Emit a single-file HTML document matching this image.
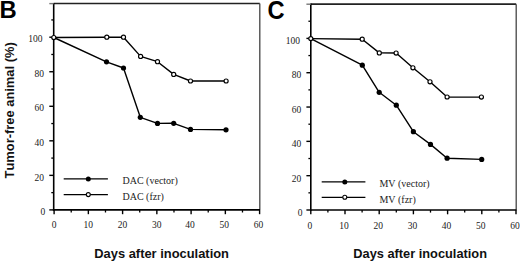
<!DOCTYPE html>
<html><head><meta charset="utf-8"><style>
html,body{margin:0;padding:0;background:#fff;}
body{width:520px;height:262px;overflow:hidden;}
svg{display:block;}
text{font-kerning:none;}
.tk{font-family:"Liberation Serif",serif;font-size:9.5px;fill:#222;}
.lg{font-family:"Liberation Serif",serif;font-size:10px;fill:#222;}
.ttl{font-family:"Liberation Sans",sans-serif;font-weight:bold;font-size:12.9px;fill:#111;}
.ttl2{font-family:"Liberation Sans",sans-serif;font-weight:bold;font-size:12.9px;fill:#111;}
.big{font-family:"Liberation Sans",sans-serif;font-weight:bold;font-size:24.5px;fill:#000;}
</style></head><body>
<svg width="520" height="262" viewBox="0 0 520 262">
<rect width="520" height="262" fill="#fff"/>
<line x1="53.70" y1="3.60" x2="259.80" y2="3.60" stroke="#222" stroke-width="1.5"/>
<line x1="259.80" y1="3.60" x2="259.80" y2="209.90" stroke="#444" stroke-width="1.3"/>
<line x1="53.70" y1="3.00" x2="53.70" y2="210.70" stroke="#000" stroke-width="1.6"/>
<line x1="52.90" y1="209.90" x2="260.00" y2="209.90" stroke="#000" stroke-width="1.6"/>
<line x1="49.30" y1="209.90" x2="53.70" y2="209.90" stroke="#000" stroke-width="1.4"/>
<line x1="51.30" y1="192.63" x2="53.70" y2="192.63" stroke="#000" stroke-width="1.3"/>
<line x1="49.30" y1="175.36" x2="53.70" y2="175.36" stroke="#000" stroke-width="1.4"/>
<line x1="51.30" y1="158.09" x2="53.70" y2="158.09" stroke="#000" stroke-width="1.3"/>
<line x1="49.30" y1="140.82" x2="53.70" y2="140.82" stroke="#000" stroke-width="1.4"/>
<line x1="51.30" y1="123.55" x2="53.70" y2="123.55" stroke="#000" stroke-width="1.3"/>
<line x1="49.30" y1="106.28" x2="53.70" y2="106.28" stroke="#000" stroke-width="1.4"/>
<line x1="51.30" y1="89.01" x2="53.70" y2="89.01" stroke="#000" stroke-width="1.3"/>
<line x1="49.30" y1="71.74" x2="53.70" y2="71.74" stroke="#000" stroke-width="1.4"/>
<line x1="51.30" y1="54.47" x2="53.70" y2="54.47" stroke="#000" stroke-width="1.3"/>
<line x1="49.30" y1="37.20" x2="53.70" y2="37.20" stroke="#000" stroke-width="1.4"/>
<line x1="51.30" y1="19.93" x2="53.70" y2="19.93" stroke="#000" stroke-width="1.3"/>
<line x1="49.30" y1="3.60" x2="53.70" y2="3.60" stroke="#777" stroke-width="1.4"/>
<text x="45.30" y="214.90" class="tk" text-anchor="end" >0</text>
<text x="44.10" y="181.36" class="tk" text-anchor="end" >20</text>
<text x="44.10" y="145.82" class="tk" text-anchor="end" >40</text>
<text x="44.10" y="111.28" class="tk" text-anchor="end" >60</text>
<text x="44.10" y="76.74" class="tk" text-anchor="end" >80</text>
<text x="42.60" y="41.50" class="tk" text-anchor="end" >100</text>
<line x1="54.10" y1="209.90" x2="54.10" y2="214.20" stroke="#000" stroke-width="1.4"/>
<text x="54.10" y="227.80" class="tk" text-anchor="middle" >0</text>
<line x1="71.22" y1="209.90" x2="71.22" y2="212.50" stroke="#000" stroke-width="1.3"/>
<line x1="88.35" y1="209.90" x2="88.35" y2="214.20" stroke="#000" stroke-width="1.4"/>
<text x="88.35" y="227.80" class="tk" text-anchor="middle" >10</text>
<line x1="105.48" y1="209.90" x2="105.48" y2="212.50" stroke="#000" stroke-width="1.3"/>
<line x1="122.60" y1="209.90" x2="122.60" y2="214.20" stroke="#000" stroke-width="1.4"/>
<text x="122.60" y="227.80" class="tk" text-anchor="middle" >20</text>
<line x1="139.72" y1="209.90" x2="139.72" y2="212.50" stroke="#000" stroke-width="1.3"/>
<line x1="156.85" y1="209.90" x2="156.85" y2="214.20" stroke="#000" stroke-width="1.4"/>
<text x="156.85" y="227.80" class="tk" text-anchor="middle" >30</text>
<line x1="173.98" y1="209.90" x2="173.98" y2="212.50" stroke="#000" stroke-width="1.3"/>
<line x1="191.10" y1="209.90" x2="191.10" y2="214.20" stroke="#000" stroke-width="1.4"/>
<text x="190.10" y="227.80" class="tk" text-anchor="middle" >40</text>
<line x1="208.22" y1="209.90" x2="208.22" y2="212.50" stroke="#000" stroke-width="1.3"/>
<line x1="225.35" y1="209.90" x2="225.35" y2="214.20" stroke="#000" stroke-width="1.4"/>
<text x="224.35" y="227.80" class="tk" text-anchor="middle" >50</text>
<line x1="242.48" y1="209.90" x2="242.48" y2="212.50" stroke="#000" stroke-width="1.3"/>
<line x1="259.60" y1="209.90" x2="259.60" y2="214.20" stroke="#000" stroke-width="1.4"/>
<text x="258.60" y="227.80" class="tk" text-anchor="middle" >60</text>
<path d="M53.80,37.50 L106.50,61.80 L123.50,68.00 L140.30,117.30 L157.50,123.40 L173.70,123.30 L190.50,129.40 L226.00,129.80" fill="none" stroke="#000" stroke-width="1.4" stroke-linejoin="round"/>
<path d="M53.80,37.50 L106.80,37.20 L123.50,37.20 L140.60,56.40 L157.50,61.70 L173.70,74.40 L190.50,81.00 L226.10,81.00" fill="none" stroke="#000" stroke-width="1.4" stroke-linejoin="round"/>
<circle cx="106.80" cy="37.20" r="2.05" fill="#fff" stroke="#000" stroke-width="1.15"/>
<circle cx="123.50" cy="37.20" r="2.05" fill="#fff" stroke="#000" stroke-width="1.15"/>
<circle cx="140.60" cy="56.40" r="2.05" fill="#fff" stroke="#000" stroke-width="1.15"/>
<circle cx="157.50" cy="61.70" r="2.05" fill="#fff" stroke="#000" stroke-width="1.15"/>
<circle cx="173.70" cy="74.40" r="2.05" fill="#fff" stroke="#000" stroke-width="1.15"/>
<circle cx="190.50" cy="81.00" r="2.05" fill="#fff" stroke="#000" stroke-width="1.15"/>
<circle cx="226.10" cy="81.00" r="2.05" fill="#fff" stroke="#000" stroke-width="1.15"/>
<circle cx="53.80" cy="37.50" r="2.05" fill="#fff" stroke="#000" stroke-width="1.15"/>
<circle cx="106.50" cy="61.80" r="2.6" fill="#000"/>
<circle cx="123.50" cy="68.00" r="2.6" fill="#000"/>
<circle cx="140.30" cy="117.30" r="2.6" fill="#000"/>
<circle cx="157.50" cy="123.40" r="2.6" fill="#000"/>
<circle cx="173.70" cy="123.30" r="2.6" fill="#000"/>
<circle cx="190.50" cy="129.40" r="2.6" fill="#000"/>
<circle cx="226.00" cy="129.80" r="2.6" fill="#000"/>
<line x1="63.70" y1="178.90" x2="107.90" y2="178.90" stroke="#000" stroke-width="1.3"/>
<line x1="63.70" y1="194.60" x2="107.90" y2="194.60" stroke="#000" stroke-width="1.3"/>
<circle cx="88.30" cy="178.90" r="2.5" fill="#000"/>
<circle cx="88.30" cy="194.60" r="2.0" fill="#fff" stroke="#000" stroke-width="1.1"/>
<text x="122.50" y="183.70" class="lg" text-anchor="start" >DAC (vector)</text>
<text x="122.50" y="199.60" class="lg" text-anchor="start" >DAC (fzr)</text>
<text class="big" transform="translate(-0.5,17.9) scale(1.0,1)" x="0" y="0" style="font-size:23.8px">B</text>
<text x="94.30" y="258.20" class="ttl" text-anchor="start" style="font-size:12.9px">Days after inoculation</text>
<line x1="310.80" y1="4.20" x2="516.20" y2="4.20" stroke="#222" stroke-width="1.7"/>
<line x1="516.20" y1="4.20" x2="516.20" y2="210.00" stroke="#444" stroke-width="1.3"/>
<line x1="310.80" y1="3.60" x2="310.80" y2="210.80" stroke="#000" stroke-width="1.6"/>
<line x1="310.00" y1="210.00" x2="516.40" y2="210.00" stroke="#000" stroke-width="1.6"/>
<line x1="306.40" y1="210.00" x2="310.80" y2="210.00" stroke="#000" stroke-width="1.4"/>
<line x1="308.40" y1="192.84" x2="310.80" y2="192.84" stroke="#000" stroke-width="1.3"/>
<line x1="306.40" y1="175.68" x2="310.80" y2="175.68" stroke="#000" stroke-width="1.4"/>
<line x1="308.40" y1="158.52" x2="310.80" y2="158.52" stroke="#000" stroke-width="1.3"/>
<line x1="306.40" y1="141.36" x2="310.80" y2="141.36" stroke="#000" stroke-width="1.4"/>
<line x1="308.40" y1="124.20" x2="310.80" y2="124.20" stroke="#000" stroke-width="1.3"/>
<line x1="306.40" y1="107.04" x2="310.80" y2="107.04" stroke="#000" stroke-width="1.4"/>
<line x1="308.40" y1="89.88" x2="310.80" y2="89.88" stroke="#000" stroke-width="1.3"/>
<line x1="306.40" y1="72.72" x2="310.80" y2="72.72" stroke="#000" stroke-width="1.4"/>
<line x1="308.40" y1="55.56" x2="310.80" y2="55.56" stroke="#000" stroke-width="1.3"/>
<line x1="306.40" y1="38.40" x2="310.80" y2="38.40" stroke="#000" stroke-width="1.4"/>
<line x1="308.40" y1="21.24" x2="310.80" y2="21.24" stroke="#000" stroke-width="1.3"/>
<line x1="306.40" y1="4.20" x2="310.80" y2="4.20" stroke="#777" stroke-width="1.4"/>
<text x="302.40" y="216.20" class="tk" text-anchor="end" >0</text>
<text x="301.20" y="182.18" class="tk" text-anchor="end" >20</text>
<text x="301.20" y="146.96" class="tk" text-anchor="end" >40</text>
<text x="301.20" y="112.64" class="tk" text-anchor="end" >60</text>
<text x="301.20" y="78.32" class="tk" text-anchor="end" >80</text>
<text x="299.90" y="44.20" class="tk" text-anchor="end" >100</text>
<line x1="310.80" y1="210.00" x2="310.80" y2="214.30" stroke="#000" stroke-width="1.4"/>
<text x="309.80" y="228.80" class="tk" text-anchor="middle" >0</text>
<line x1="327.90" y1="210.00" x2="327.90" y2="212.60" stroke="#000" stroke-width="1.3"/>
<line x1="345.00" y1="210.00" x2="345.00" y2="214.30" stroke="#000" stroke-width="1.4"/>
<text x="344.00" y="228.80" class="tk" text-anchor="middle" >10</text>
<line x1="362.10" y1="210.00" x2="362.10" y2="212.60" stroke="#000" stroke-width="1.3"/>
<line x1="379.20" y1="210.00" x2="379.20" y2="214.30" stroke="#000" stroke-width="1.4"/>
<text x="378.20" y="228.80" class="tk" text-anchor="middle" >20</text>
<line x1="396.30" y1="210.00" x2="396.30" y2="212.60" stroke="#000" stroke-width="1.3"/>
<line x1="413.40" y1="210.00" x2="413.40" y2="214.30" stroke="#000" stroke-width="1.4"/>
<text x="412.40" y="228.80" class="tk" text-anchor="middle" >30</text>
<line x1="430.50" y1="210.00" x2="430.50" y2="212.60" stroke="#000" stroke-width="1.3"/>
<line x1="447.60" y1="210.00" x2="447.60" y2="214.30" stroke="#000" stroke-width="1.4"/>
<text x="446.60" y="228.80" class="tk" text-anchor="middle" >40</text>
<line x1="464.70" y1="210.00" x2="464.70" y2="212.60" stroke="#000" stroke-width="1.3"/>
<line x1="481.80" y1="210.00" x2="481.80" y2="214.30" stroke="#000" stroke-width="1.4"/>
<text x="480.80" y="228.80" class="tk" text-anchor="middle" >50</text>
<line x1="498.90" y1="210.00" x2="498.90" y2="212.60" stroke="#000" stroke-width="1.3"/>
<line x1="516.00" y1="210.00" x2="516.00" y2="214.30" stroke="#000" stroke-width="1.4"/>
<text x="515.00" y="228.80" class="tk" text-anchor="middle" >60</text>
<path d="M310.80,38.60 L362.30,65.20 L379.20,92.30 L396.30,105.20 L413.40,131.70 L430.50,144.40 L447.10,158.20 L481.70,159.40" fill="none" stroke="#000" stroke-width="1.4" stroke-linejoin="round"/>
<path d="M310.80,38.60 L362.20,39.20 L379.30,52.90 L396.10,53.00 L412.90,67.80 L430.00,81.80 L447.10,97.00 L481.40,97.10" fill="none" stroke="#000" stroke-width="1.4" stroke-linejoin="round"/>
<circle cx="362.20" cy="39.20" r="2.05" fill="#fff" stroke="#000" stroke-width="1.15"/>
<circle cx="379.30" cy="52.90" r="2.05" fill="#fff" stroke="#000" stroke-width="1.15"/>
<circle cx="396.10" cy="53.00" r="2.05" fill="#fff" stroke="#000" stroke-width="1.15"/>
<circle cx="412.90" cy="67.80" r="2.05" fill="#fff" stroke="#000" stroke-width="1.15"/>
<circle cx="430.00" cy="81.80" r="2.05" fill="#fff" stroke="#000" stroke-width="1.15"/>
<circle cx="447.10" cy="97.00" r="2.05" fill="#fff" stroke="#000" stroke-width="1.15"/>
<circle cx="481.40" cy="97.10" r="2.05" fill="#fff" stroke="#000" stroke-width="1.15"/>
<circle cx="310.80" cy="38.60" r="2.05" fill="#fff" stroke="#000" stroke-width="1.15"/>
<circle cx="362.30" cy="65.20" r="2.6" fill="#000"/>
<circle cx="379.20" cy="92.30" r="2.6" fill="#000"/>
<circle cx="396.30" cy="105.20" r="2.6" fill="#000"/>
<circle cx="413.40" cy="131.70" r="2.6" fill="#000"/>
<circle cx="430.50" cy="144.40" r="2.6" fill="#000"/>
<circle cx="447.10" cy="158.20" r="2.6" fill="#000"/>
<circle cx="481.70" cy="159.40" r="2.6" fill="#000"/>
<line x1="321.70" y1="181.90" x2="365.40" y2="181.90" stroke="#000" stroke-width="1.3"/>
<line x1="321.70" y1="197.30" x2="365.40" y2="197.30" stroke="#000" stroke-width="1.3"/>
<circle cx="344.80" cy="181.90" r="2.5" fill="#000"/>
<circle cx="344.80" cy="197.30" r="2.0" fill="#fff" stroke="#000" stroke-width="1.1"/>
<text x="379.40" y="187.40" class="lg" text-anchor="start" >MV (vector)</text>
<text x="379.40" y="202.80" class="lg" text-anchor="start" >MV (fzr)</text>
<text class="big" transform="translate(267.6,19.0) scale(0.915,1)" x="0" y="0" style="font-size:25.8px">C</text>
<text x="353.30" y="258.20" class="ttl" text-anchor="start" style="font-size:12.8px">Days after inoculation</text>
<text class="ttl2" transform="translate(14.4,178.4) rotate(-90)" x="0" y="0">Tumor-free animal (%)</text>
</svg>
</body></html>
